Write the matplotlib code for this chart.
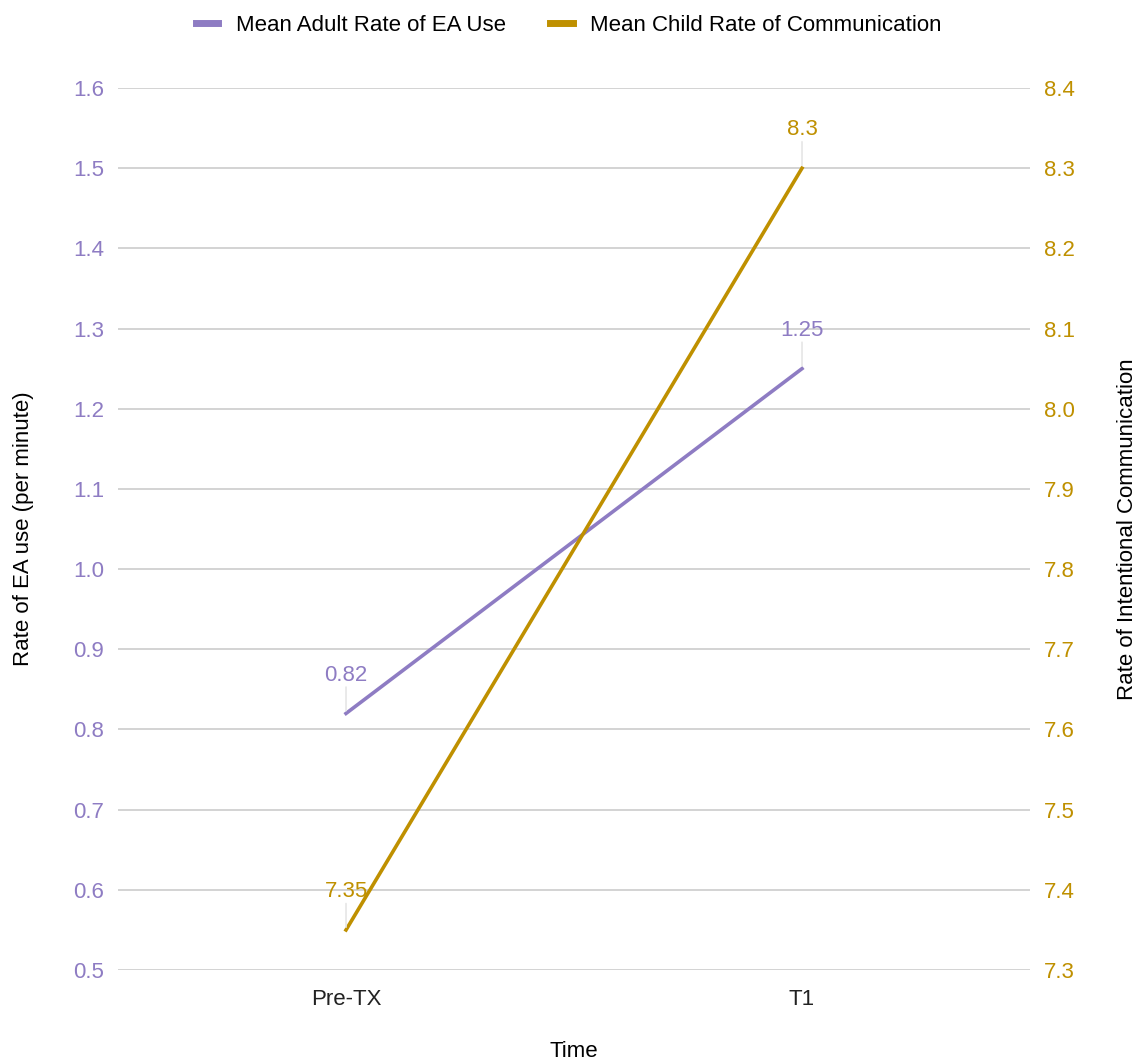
import matplotlib.pyplot as plt

plt.rcParams['font.family'] = ['Liberation Sans', 'DejaVu Sans']

times = ["Pre-TX", "T1"]
adult_ea = [0.82, 1.25]
child_comm = [7.35, 8.3]
left_ticks = [0.5, 0.6, 0.7, 0.8, 0.9, 1.0, 1.1, 1.2, 1.3, 1.4, 1.5, 1.6]
right_ticks = [7.3, 7.4, 7.5, 7.6, 7.7, 7.8, 7.9, 8.0, 8.1, 8.2, 8.3, 8.4]

purple = "#8E7CC3"
gold = "#BF9000"
fs = 16

fig = plt.figure(figsize=(11.38, 10.64), dpi=100)
ax1 = fig.add_axes([0.1037, 0.0883, 0.8014, 0.829])
ax2 = ax1.twinx()

x = range(len(times))
ax1.plot(x, adult_ea, color=purple, lw=2.6, label="Mean Adult Rate of EA Use", zorder=3)
ax2.plot(x, child_comm, color=gold, lw=2.6, label="Mean Child Rate of Communication", zorder=3)

ax1.set_xlim(-0.5, 1.5)
ax1.set_ylim(0.5, 1.6)
ax2.set_ylim(7.3, 8.4)
ax1.set_yticks(left_ticks)
ax1.set_yticklabels([f"{v:.1f}" for v in left_ticks])
ax2.set_yticks(right_ticks)
ax2.set_yticklabels([f"{v:.1f}" for v in right_ticks])
ax1.set_xticks(list(x))
ax1.set_xticklabels(times)

ax1.grid(axis='y', color="#cccccc", lw=1.2)
ax1.set_axisbelow(True)
for a in (ax1, ax2):
    for s in a.spines.values():
        s.set_visible(False)
    a.tick_params(length=0, labelsize=fs)
ax1.tick_params(axis='y', colors=purple, pad=10)
ax2.tick_params(axis='y', colors=gold, pad=10)
ax1.tick_params(axis='x', colors="#222222", pad=14)

ax1.set_xlabel("Time", fontsize=fs, labelpad=22)
ax1.set_ylabel("Rate of EA use (per minute)", fontsize=fs, labelpad=28)
ax2.set_ylabel("Rate of Intentional Communication", fontsize=fs, labelpad=30)

# data labels with short leader lines
def label(ax, xi, yi, txt, color):
    ax.annotate("", xy=(xi, yi), xytext=(0, 21), textcoords="offset points",
                arrowprops=dict(arrowstyle="-", color="#e6e6e6", lw=1.2))
    ax.annotate(txt, xy=(xi, yi), xytext=(0, 20), textcoords="offset points",
                ha="center", va="bottom", color=color, fontsize=fs)

for xi, yi in zip(x, adult_ea):
    label(ax1, xi, yi, f"{yi:g}", purple)
for xi, yi in zip(x, child_comm):
    label(ax2, xi, yi, f"{yi:g}", gold)

h1, l1 = ax1.get_legend_handles_labels()
h2, l2 = ax2.get_legend_handles_labels()
leg = fig.legend(h1 + h2, l1 + l2, loc="upper center", bbox_to_anchor=(0.5, 1.005),
                 ncol=2, frameon=False, fontsize=fs, handlelength=1.0,
                 columnspacing=2.0, handletextpad=0.8)
for ln in leg.get_lines():
    ln.set_linewidth(5)

fig.savefig("out.png", dpi=100)
